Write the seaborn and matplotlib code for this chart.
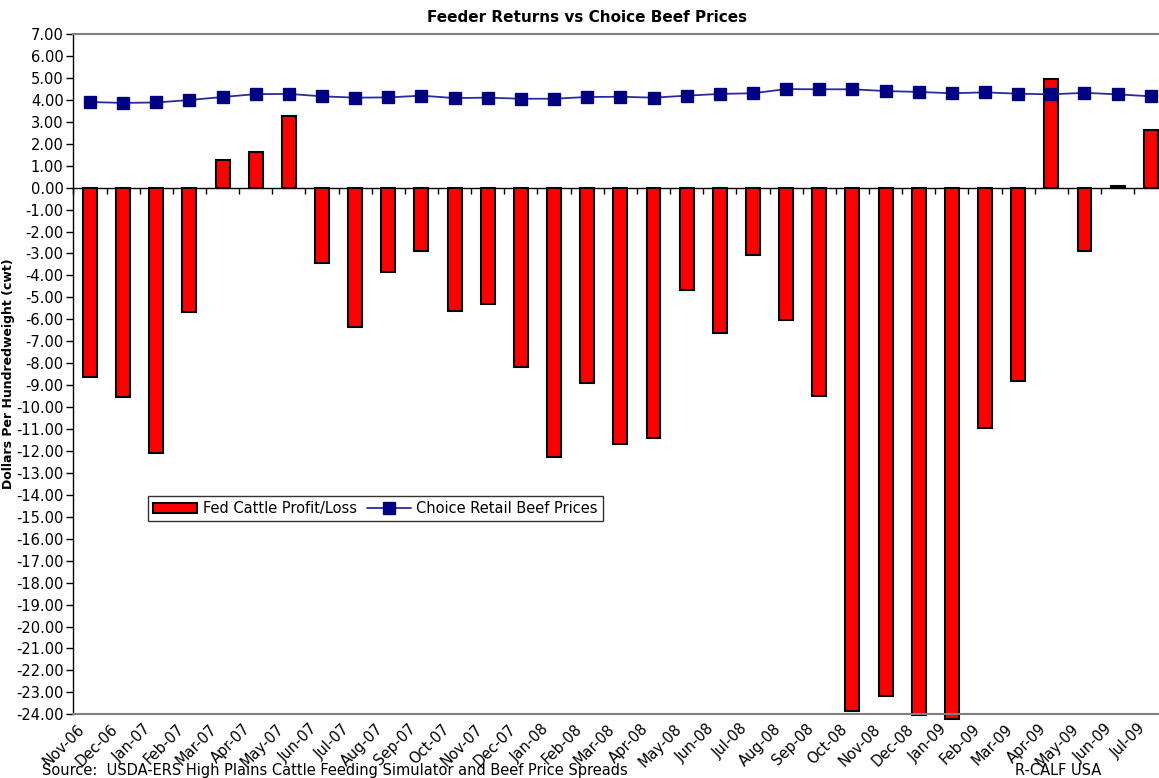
import numpy as np
import pandas as pd
import matplotlib
matplotlib.use("Agg")
import matplotlib.pyplot as plt
import matplotlib.transforms as mtransforms
import seaborn as sns

months = ["Nov-06", "Dec-06", "Jan-07", "Feb-07", "Mar-07", "Apr-07", "May-07",
          "Jun-07", "Jul-07", "Aug-07", "Sep-07", "Oct-07", "Nov-07", "Dec-07",
          "Jan-08", "Feb-08", "Mar-08", "Apr-08", "May-08", "Jun-08", "Jul-08",
          "Aug-08", "Sep-08", "Oct-08", "Nov-08", "Dec-08", "Jan-09", "Feb-09",
          "Mar-09", "Apr-09", "May-09", "Jun-09", "Jul-09"]

profit = [-8.64, -9.55, -12.08, -5.65, 1.26, 1.64, 3.28,
          -3.45, -6.37, -3.86, -2.89, -5.61, -5.32, -8.17,
          -12.26, -8.90, -11.70, -11.41, -4.65, -6.61, -3.06,
          -6.03, -9.51, -23.86, -23.16, -24.03, -24.20, -10.97,
          -8.80, 4.93, -2.90, 0.08, 2.62]

price = [3.90, 3.86, 3.88, 3.99, 4.13, 4.26, 4.27,
         4.16, 4.10, 4.11, 4.19, 4.08, 4.10, 4.05,
         4.05, 4.13, 4.14, 4.10, 4.19, 4.27, 4.30,
         4.49, 4.48, 4.48, 4.40, 4.36, 4.30, 4.34,
         4.28, 4.25, 4.32, 4.25, 4.16]

y_ticks = list(range(-24, 8))
y_tick_labels = [f"{v:.2f}" for v in y_ticks]

title = "Feeder Returns vs Choice Beef Prices"
y_title = "Dollars Per Hundredweight (cwt)"
bar_label = "Fed Cattle Profit/Loss"
line_label = "Choice Retail Beef Prices"
source_text = "Source:  USDA-ERS High Plains Cattle Feeding Simulator and Beef Price Spreads"
credit_text = "R-CALF USA"

sns.set_theme(style="white")
plt.rcParams['font.family'] = ['DejaVu Sans']
plt.rcParams['text.color'] = 'black'

df = pd.DataFrame({"month": months, "profit": profit, "price": price})

fig = plt.figure(figsize=(11.59, 7.78), dpi=100)
ax = fig.add_axes([0.0633, 0.0819, 0.9439, 0.8744])

sns.barplot(data=df, x="month", y="profit", color="#FF0000", saturation=1,
            edgecolor="black", linewidth=1.5, width=0.42, ax=ax,
            label=bar_label, zorder=2)
for p in ax.patches:
    p.set_clip_on(False)

sns.pointplot(data=df, x="month", y="price", color="#000080", markers="s",
              markersize=8.5, linewidth=1.3, errorbar=None, ax=ax,
              label=line_label)
for ln in ax.lines:
    if ln.get_label() == line_label:
        ln.set_color("#2a2a9a")
        ln.set_markerfacecolor("#000080")
        ln.set_markeredgecolor("#000080")
        ln.set_zorder(4)

ymin, ymax = y_ticks[0], 7
ax.set_xlim(-0.5, len(months) - 0.5)
ax.set_ylim(ymin, ymax)

ax.set_yticks(y_ticks, labels=y_tick_labels)
ax.tick_params(axis='y', which='major', direction='out', length=5, width=1,
               color='black', labelsize=10.5, pad=2, left=True, labelcolor='black')
ax.set_xlabel("")
ax.set_ylabel(y_title, fontsize=9, fontweight='bold', color='black')
ax.yaxis.set_label_coords(-0.053, 0.5)

for s in ['top', 'bottom', 'right']:
    ax.spines[s].set_color('#808080')
    ax.spines[s].set_linewidth(1.5)
ax.spines['left'].set_color('black')
ax.spines['left'].set_linewidth(1.0)

# zero-line category axis with ticks between categories
frac = (0 - ymin) / (ymax - ymin)
sec = ax.secondary_xaxis(frac)
sec.set_alignment('bottom')
sec.set_xticks(np.arange(len(months) + 1) - 0.5)
sec.tick_params(axis='x', direction='out', length=4, width=1, color='black',
                labelbottom=False, labeltop=False, bottom=True, top=False)
sec.spines['bottom'].set_color('black')
sec.spines['bottom'].set_linewidth(1.0)

# legend (bars first, then line)
handles, labels = ax.get_legend_handles_labels()
order = [labels.index(bar_label), labels.index(line_label)]
leg = ax.legend([handles[i] for i in order], [labels[i] for i in order],
                loc='upper left', bbox_to_anchor=(0.1277, 0.3625),
                bbox_transform=fig.transFigure, ncol=2, frameon=True, fancybox=False,
                edgecolor='black', fontsize=10.5, handlelength=3.0, handletextpad=0.4,
                columnspacing=0.7, borderpad=0.35, borderaxespad=0,
                labelcolor='black')
leg.get_frame().set_linewidth(1.0)

# titles and notes
fig.text(0.5065, 0.9769, title, ha='center', va='center', fontsize=11,
         fontweight='bold', color='black')
fig.text(42 / 1159, 0.004, source_text, ha='left', va='baseline', fontsize=10.5,
         color='black')
fig.text(1015 / 1159, 0.004, credit_text, ha='left', va='baseline', fontsize=10.5,
         color='black')

# category labels, rotated
ax.set_xticks(range(len(months)), labels=months)
ax.tick_params(axis='x', length=0, pad=0, labelsize=10.5, labelcolor='black')
offset = mtransforms.ScaledTranslation(-13 / 100, -7 / 100, fig.dpi_scale_trans)
for lab in ax.get_xticklabels():
    lab.set_rotation(45)
    lab.set_ha('right')
    lab.set_va('top')
    lab.set_rotation_mode('anchor')
    lab.set_transform(lab.get_transform() + offset)

fig.savefig('out.png', dpi=100)
